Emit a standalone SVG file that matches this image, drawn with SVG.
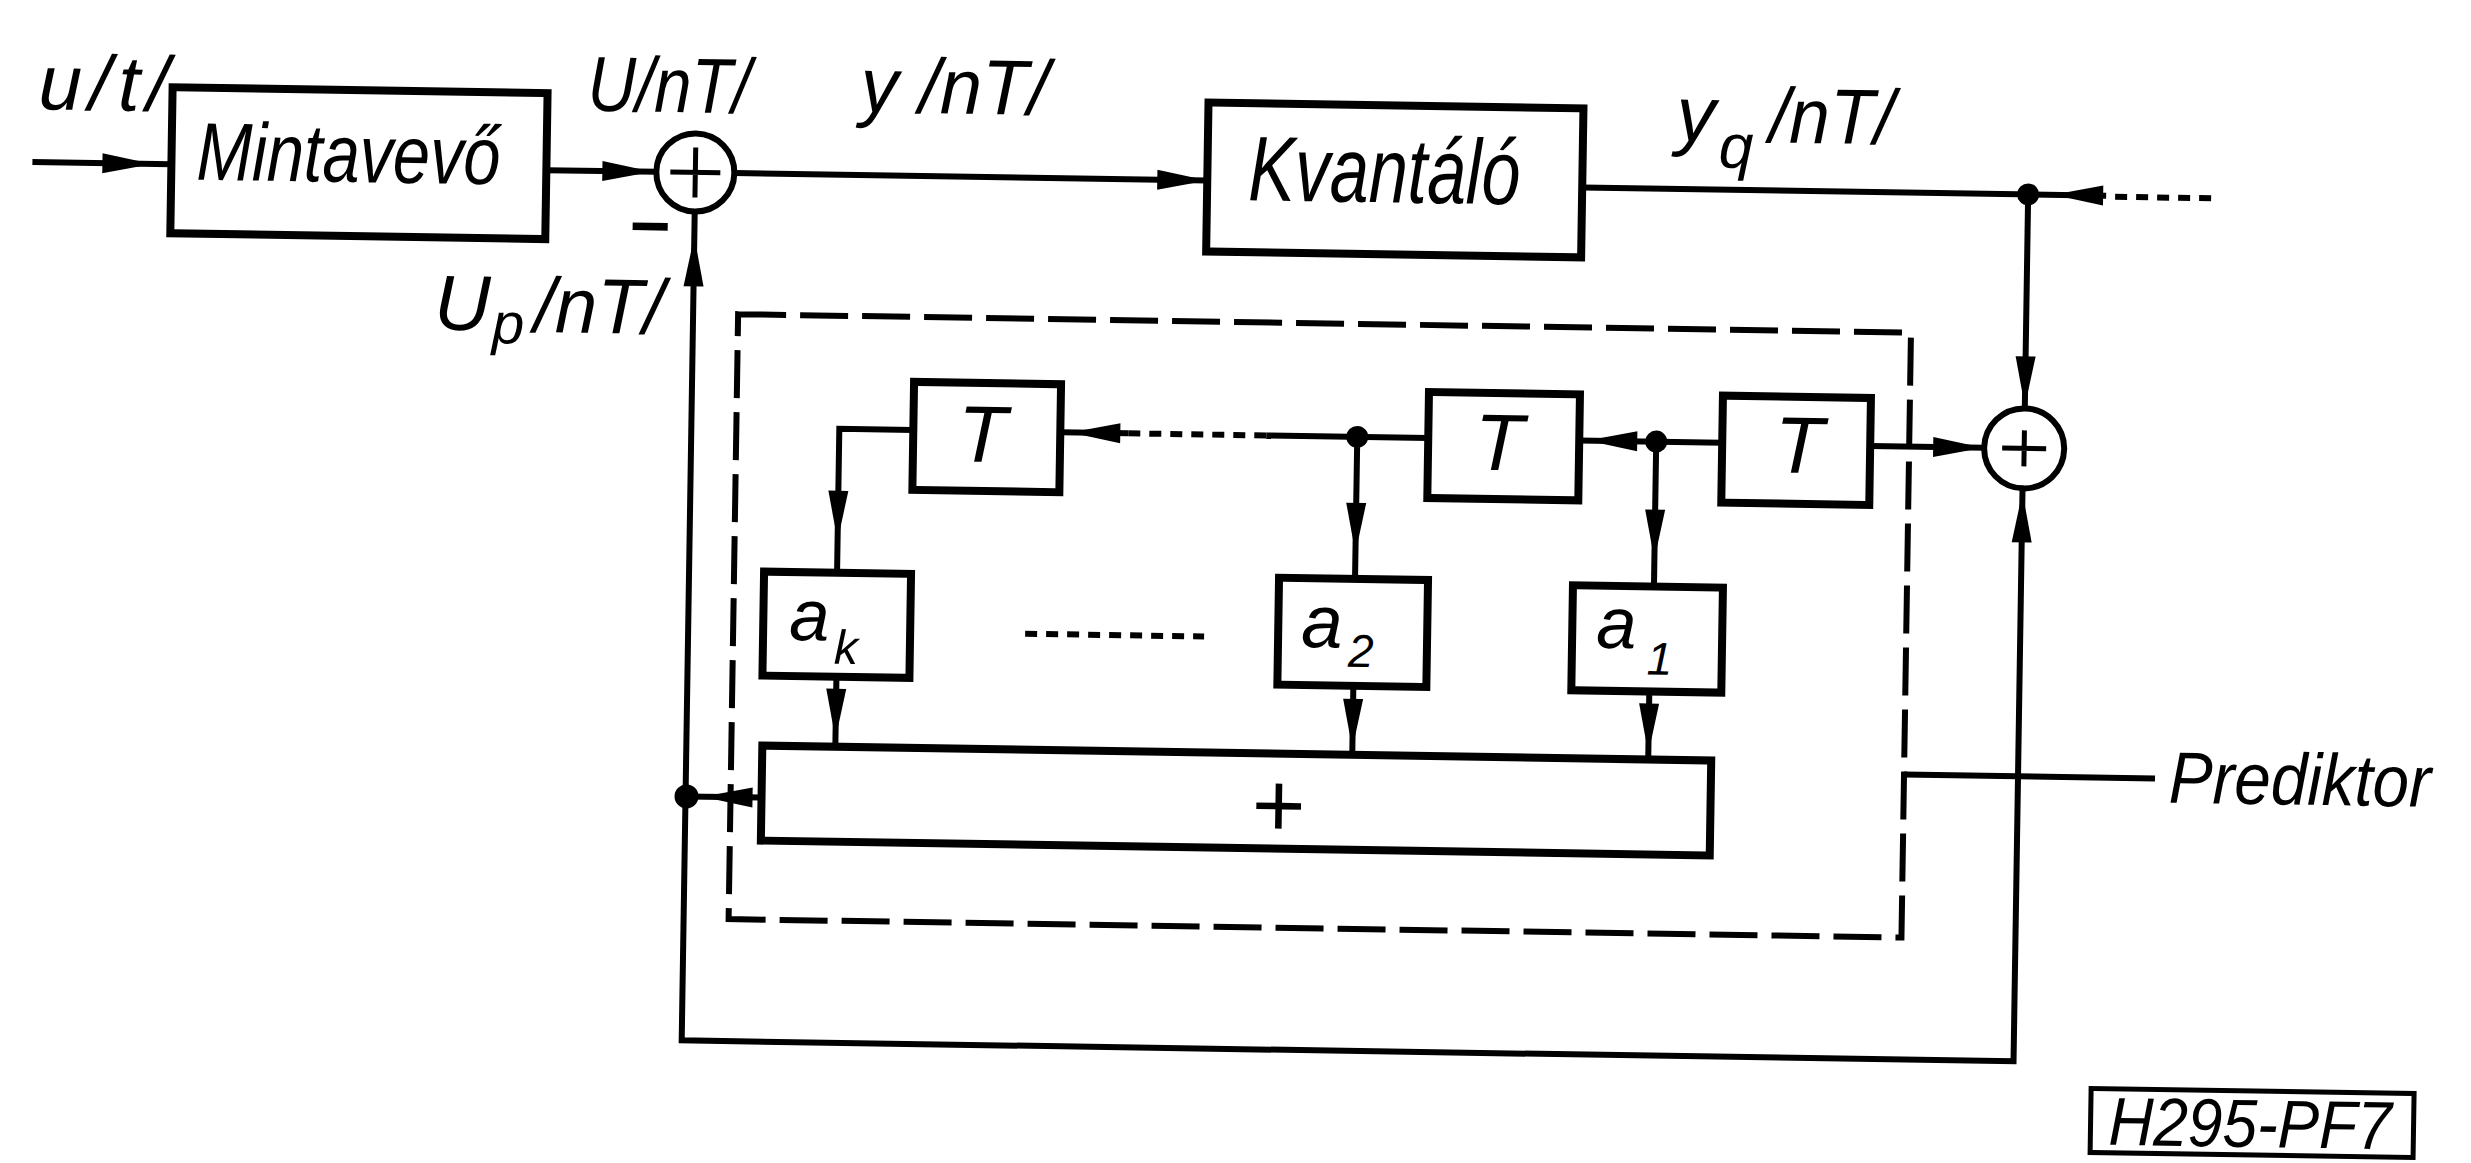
<svg xmlns="http://www.w3.org/2000/svg" width="2471" height="1163" viewBox="0 0 2471 1163">
<defs>
<style>
.ln{fill:none;stroke:#000;stroke-width:6}
.bx{fill:none;stroke:#000;stroke-width:8}
.cir{fill:none;stroke:#000;stroke-width:6}
.pl{fill:none;stroke:#000;stroke-width:5}
.dsh{fill:none;stroke:#000;stroke-width:6;stroke-dasharray:48 14}
.dot{fill:none;stroke:#000;stroke-width:6;stroke-dasharray:12 9}
.jn{fill:#000}
text{font-family:"Liberation Sans",Arial,sans-serif;font-style:italic;fill:#000}
.lb{font-size:78px}
.T{font-size:80px;text-anchor:middle}
</style>
<path id="ah" d="M0,0 L-50,-10 L-50,10 Z" fill="#000"/>
</defs>
<rect width="2471" height="1163" fill="#fff"/>
<g transform="rotate(0.9 1235 580)">
  <g id="connectors">
    <path class="ln" d="M26,181 H165"/>
    <path class="ln" d="M540,181 H650"/>
    <path class="ln" d="M728,181 H1201"/>
    <path class="ln" d="M1576,182 H2100"/>
    <path class="dot" d="M2109,183 H2207"/>
    <path class="ln" d="M2022,182 V396"/>
    <path class="ln" d="M2021,476 V1049 H689 V220"/>
    <path class="ln" d="M765,805 H690"/>
    <path class="ln" d="M1907,764 H2158"/>
    <path class="ln" d="M1983,436 H1868"/>
    <path class="ln" d="M1720,435 H1577"/>
    <path class="ln" d="M1426,435 H1264"/>
    <path class="dot" d="M1126,435 H1264"/>
    <path class="ln" d="M1126,435 H1058"/>
    <path class="ln" d="M911,435 H837 V579"/>
    <path class="ln" d="M1355,435 V577"/>
    <path class="ln" d="M1654,435 V580"/>
    <path class="ln" d="M838,683 V753"/>
    <path class="ln" d="M1355,684 V753"/>
    <path class="ln" d="M1651,685 V753"/>
    <path class="dot" d="M1026,637 H1205"/>
    <circle class="jn" cx="2022" cy="182" r="11"/>
    <circle class="jn" cx="1355" cy="435" r="11"/>
    <circle class="jn" cx="1654" cy="435" r="11"/>
    <circle class="jn" cx="690" cy="805" r="12"/>
    <use href="#ah" transform="translate(146,181)"/>
    <use href="#ah" transform="translate(646,181)"/>
    <use href="#ah" transform="translate(689,245) rotate(-90)"/>
    <use href="#ah" transform="translate(1201,181)"/>
    <use href="#ah" transform="translate(2047,182) rotate(180)"/>
    <use href="#ah" transform="translate(2022,394) rotate(90)"/>
    <use href="#ah" transform="translate(2021,480) rotate(-90)"/>
    <use href="#ah" transform="translate(1981,436)"/>
    <use href="#ah" transform="translate(1585,435) rotate(180)"/>
    <use href="#ah" transform="translate(1068,435) rotate(180)"/>
    <use href="#ah" transform="translate(837,547) rotate(90)"/>
    <use href="#ah" transform="translate(1355,551) rotate(90)"/>
    <use href="#ah" transform="translate(1654,553) rotate(90)"/>
    <use href="#ah" transform="translate(838,745) rotate(90)"/>
    <use href="#ah" transform="translate(1355,747) rotate(90)"/>
    <use href="#ah" transform="translate(1651,747) rotate(90)"/>
    <use href="#ah" transform="translate(706,805) rotate(180)"/>
  </g>
  <g id="lbl-u">
    <text class="lb" x="31" y="128" textLength="130" lengthAdjust="spacing">u/t/</text>
  </g>
  <g id="mintavevo">
    <rect class="bx" x="165" y="104" width="375" height="146"/>
    <text x="190" y="196" font-size="82" textLength="304" lengthAdjust="spacingAndGlyphs">Mintavevő</text>
  </g>
  <g id="sum1">
    <circle class="cir" cx="689" cy="181" r="39"/>
    <path class="pl" d="M664,181 H714 M689,156 V206"/>
    <text x="623" y="259" font-size="70" font-weight="bold" font-style="normal">−</text>
  </g>
  <g id="lbl-U">
    <text class="lb" x="580" y="121" textLength="163" lengthAdjust="spacingAndGlyphs">U/nT/</text>
  </g>
  <g id="lbl-Up">
    <text class="lb" x="430" y="342">U</text>
    <text x="488" y="355" font-size="58">p</text>
    <text class="lb" x="530" y="343" textLength="130" lengthAdjust="spacingAndGlyphs">/nT/</text>
  </g>
  <g id="lbl-y">
    <text class="lb" x="853" y="118" textLength="188" lengthAdjust="spacingAndGlyphs">y /nT/</text>
  </g>
  <g id="kvantalo">
    <rect class="bx" x="1201" y="103" width="375" height="149"/>
    <text x="1242" y="200" font-size="92" textLength="272" lengthAdjust="spacingAndGlyphs">Kvantáló</text>
  </g>
  <g id="lbl-yq">
    <text class="lb" x="1669" y="134">y</text>
    <text x="1712" y="160" font-size="62">q</text>
    <text class="lb" x="1762" y="134" textLength="125" lengthAdjust="spacingAndGlyphs">/nT/</text>
  </g>
  <g id="sum2">
    <circle class="cir" cx="2022" cy="436" r="40"/>
    <path class="pl" d="M2000,436 H2044 M2022,418 V454"/>
  </g>
  <g id="predictor">
    <path class="dsh" d="M734,322 H1907 V927 H734 Z"/>
  </g>
  <g id="T1">
    <rect class="bx" x="911" y="387" width="147" height="108"/>
    <text class="T" x="980" y="466">T</text>
  </g>
  <g id="T2">
    <rect class="bx" x="1426" y="389" width="151" height="106"/>
    <text class="T" x="1497" y="466">T</text>
  </g>
  <g id="T3">
    <rect class="bx" x="1720" y="388" width="148" height="107"/>
    <text class="T" x="1797" y="464">T</text>
  </g>
  <g id="ak">
    <rect class="bx" x="764" y="579" width="147" height="104"/>
    <text x="790" y="647" font-size="72">a</text>
    <text x="835" y="670" font-size="48">k</text>
  </g>
  <g id="a2">
    <rect class="bx" x="1279" y="577" width="149" height="107"/>
    <text x="1302" y="646" font-size="74">a</text>
    <text x="1349" y="665" font-size="46">2</text>
  </g>
  <g id="a1">
    <rect class="bx" x="1573" y="580" width="150" height="105"/>
    <text x="1597" y="642" font-size="72">a</text>
    <text x="1648" y="668" font-size="46">1</text>
  </g>
  <g id="adder">
    <rect class="bx" x="765" y="753" width="949" height="95"/>
    <text x="1281" y="836" font-size="92" text-anchor="middle">+</text>
  </g>
  <g id="lbl-pred">
    <text x="2172" y="788" font-size="73" textLength="262" lengthAdjust="spacingAndGlyphs">Prediktor</text>
  </g>
  <g id="figid">
    <rect x="2099" y="1075" width="323" height="64" fill="none" stroke="#000" stroke-width="5"/>
    <text x="2117" y="1131" font-size="68" textLength="283" lengthAdjust="spacingAndGlyphs">H295-PF7</text>
  </g>
</g>
</svg>
